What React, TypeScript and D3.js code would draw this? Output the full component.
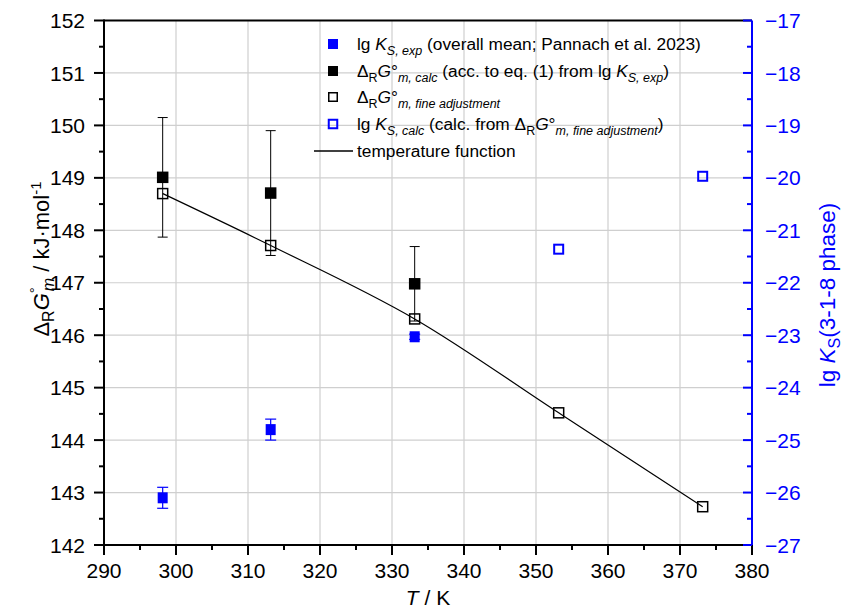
import React from "react";
import * as d3 from "d3";

// ---- data ----
const xTicks = [290, 300, 310, 320, 330, 340, 350, 360, 370, 380];
const yTicks = [142, 143, 144, 145, 146, 147, 148, 149, 150, 151, 152];
const y2Ticks = [-27, -26, -25, -24, -23, -22, -21, -20, -19, -18, -17];

const dgCalcT = [298.15, 313.15, 333.15];
const dgCalc = [149.01, 148.71, 146.98];
const dgCalcErr = [1.14, 1.19, 0.71];

const fineT = [298.15, 313.15, 333.15, 353.15, 373.15];
const dgFine = [148.7, 147.71, 146.31, 144.52, 142.73];

const lgKexpT = [298.15, 313.15, 333.15];
const lgKexp = [-26.1, -24.8, -23.03];
const lgKexpErr = [0.2, 0.2, 0.05];

const lgKcalcT = [353.15, 373.15];
const lgKcalc = [-21.36, -19.97];

// ---- layout ----
const W = 844, H = 609;
const L = 104, R = 752, T = 20.5, B = 545;
const FONT = "'Liberation Sans', Arial, Helvetica, sans-serif";
const BLUE = "#0000ff";

export default function App() {
  const x = d3.scaleLinear().domain([290, 380]).range([L, R]);
  const y = d3.scaleLinear().domain([142, 152]).range([B, T]);
  const y2 = d3.scaleLinear().domain([-27, -17]).range([B, T]);

  const xMinor = d3.range(295, 380, 10);
  const yMinor = d3.range(142.5, 152, 1);
  const y2Minor = d3.range(-26.5, -17, 1);

  const line = d3
    .line<number>()
    .x((_, i) => x(fineT[i]))
    .y((d) => y(d))
    .curve(d3.curveMonotoneX);

  const sq = 11.5;
  const sqB = 10;

  const sub = (t: string, italic = true, size = 12.5) => (
    <tspan fontSize={size} fontStyle={italic ? "italic" : "normal"} dy={5}>
      {t}
    </tspan>
  );

  const legendX = 357;
  const legendMX = 333;
  const rows = [44, 71, 97, 124, 151];

  return (
    <svg
      width={W}
      height={H}
      style={{ position: "absolute", left: 0, top: 0, background: "#fff" }}
      fontFamily={FONT}
    >
      <rect width={W} height={H} fill="#fff" />
      {/* grid */}
      {xTicks.slice(1, -1).map((t) => (
        <line key={"gx" + t} x1={x(t)} x2={x(t)} y1={T} y2={B} stroke="#cfcfcf" strokeWidth={1.2} />
      ))}
      {yTicks.slice(1, -1).map((t) => (
        <line key={"gy" + t} x1={L} x2={R} y1={y(t)} y2={y(t)} stroke="#cfcfcf" strokeWidth={1.2} />
      ))}

      {/* temperature function */}
      <path d={line(dgFine) || ""} fill="none" stroke="#000" strokeWidth={1.2} />

      {/* black error bars */}
      {dgCalc.map((v, i) => {
        const cx = x(dgCalcT[i]);
        const y1 = y(v + dgCalcErr[i]);
        const y0 = y(v - dgCalcErr[i]);
        return (
          <g key={"eb" + i} stroke="#000" strokeWidth={1}>
            <line x1={cx} x2={cx} y1={y1} y2={y0} />
            <line x1={cx - 5} x2={cx + 5} y1={y1} y2={y1} />
            <line x1={cx - 5} x2={cx + 5} y1={y0} y2={y0} />
          </g>
        );
      })}

      {/* open black squares */}
      {dgFine.map((v, i) => (
        <rect
          key={"of" + i}
          x={x(fineT[i]) - sq / 2 + 0.75}
          y={y(v) - sq / 2 + 0.75}
          width={sq - 1.5}
          height={sq - 1.5}
          fill="none"
          stroke="#000"
          strokeWidth={1.5}
        />
      ))}

      {/* filled black squares */}
      {dgCalc.map((v, i) => (
        <rect key={"fc" + i} x={x(dgCalcT[i]) - sq / 2} y={y(v) - sq / 2} width={sq} height={sq} fill="#000" />
      ))}

      {/* blue error bars */}
      {lgKexp.map((v, i) => {
        const cx = x(lgKexpT[i]);
        const y1 = y2(v + lgKexpErr[i]);
        const y0 = y2(v - lgKexpErr[i]);
        return (
          <g key={"beb" + i} stroke={BLUE} strokeWidth={1.2}>
            <line x1={cx} x2={cx} y1={y1} y2={y0} />
            <line x1={cx - 5.5} x2={cx + 5.5} y1={y1} y2={y1} />
            <line x1={cx - 5.5} x2={cx + 5.5} y1={y0} y2={y0} />
          </g>
        );
      })}
      {lgKexp.map((v, i) => (
        <rect key={"bf" + i} x={x(lgKexpT[i]) - sqB / 2} y={y2(v) - sqB / 2 - 0.5} width={sqB} height={sqB + 1} fill={BLUE} />
      ))}
      {lgKcalc.map((v, i) => (
        <rect
          key={"bo" + i}
          x={x(lgKcalcT[i]) - 4.5}
          y={y2(v) - 4.5}
          width={9}
          height={9}
          fill="none"
          stroke={BLUE}
          strokeWidth={2}
        />
      ))}

      {/* axes */}
      <line x1={L} x2={R} y1={T} y2={T} stroke="#000" strokeWidth={2} />
      <line x1={L} x2={R} y1={B} y2={B} stroke="#000" strokeWidth={2} />
      <line x1={L} x2={L} y1={T - 1} y2={B + 1} stroke="#000" strokeWidth={2} />
      <line x1={R} x2={R} y1={T} y2={B + 1} stroke={BLUE} strokeWidth={2} />

      {/* x ticks */}
      {xTicks.map((t) => (
        <g key={"xt" + t}>
          <line x1={x(t)} x2={x(t)} y1={B} y2={B + 10} stroke="#000" strokeWidth={2} />
          <text x={x(t)} y={578} textAnchor="middle" fontSize={21} fill="#000">
            {t}
          </text>
        </g>
      ))}
      {xMinor.map((t) => (
        <line key={"xm" + t} x1={x(t)} x2={x(t)} y1={B} y2={B + 5} stroke="#000" strokeWidth={2} />
      ))}

      {/* left y ticks */}
      {yTicks.map((t) => (
        <g key={"yt" + t}>
          <line x1={L - 10} x2={L} y1={y(t)} y2={y(t)} stroke="#000" strokeWidth={2} />
          <text x={85} y={y(t)} dy="0.36em" textAnchor="end" fontSize={21} fill="#000">
            {t}
          </text>
        </g>
      ))}
      {yMinor.map((t) => (
        <line key={"ym" + t} x1={L - 5} x2={L} y1={y(t)} y2={y(t)} stroke="#000" strokeWidth={2} />
      ))}

      {/* right y ticks */}
      {y2Ticks.map((t) => (
        <g key={"y2t" + t}>
          <line x1={R - 9} x2={R} y1={y2(t)} y2={y2(t)} stroke={BLUE} strokeWidth={2} />
          <text x={765} y={y2(t)} dy="0.36em" textAnchor="start" fontSize={21} fill={BLUE}>
            {"\u2212" + Math.abs(t)}
          </text>
        </g>
      ))}
      {y2Minor.map((t) => (
        <line key={"y2m" + t} x1={R - 5} x2={R} y1={y2(t)} y2={y2(t)} stroke={BLUE} strokeWidth={2} />
      ))}

      {/* axis titles */}
      <text x={(L + R) / 2} y={605} textAnchor="middle" fontSize={21} fill="#000">
        <tspan fontStyle="italic">T</tspan> / K
      </text>
      <text transform={`translate(49, 259) rotate(-90)`} textAnchor="middle" fontSize={22} fill="#000">
        Δ<tspan fontSize={16} dy={5}>R</tspan>
        <tspan dy={-5} fontStyle="italic">G</tspan>
        <tspan fontSize={15} dy={-9}>°</tspan>
        <tspan fontSize={16} fontStyle="italic" dx={-4} dy={14}>m</tspan>
        <tspan dy={-5}> / kJ·mol</tspan>
        <tspan fontSize={15} dy={-8}>-1</tspan>
      </text>
      <text transform={`translate(835, 295) rotate(-90)`} textAnchor="middle" fontSize={22.5} fill={BLUE}>
        lg <tspan fontStyle="italic">K</tspan>
        <tspan fontSize={16} dy={5}>S</tspan>
        <tspan dy={-5}>(3-1-8 phase)</tspan>
      </text>

      {/* legend */}
      <g fontSize={17.3} fill="#000">
        <rect x={legendMX - 5} y={rows[0] - 5} width={10} height={10} fill={BLUE} />
        <text x={legendX} y={rows[0] + 6}>
          lg <tspan fontStyle="italic">K</tspan>
          {sub("S, exp")}
          <tspan dy={-5}> (overall mean; Pannach et al. 2023)</tspan>
        </text>

        <rect x={legendMX - 5} y={rows[1] - 5} width={10} height={10} fill="#000" />
        <text x={legendX} y={rows[1] + 6}>
          Δ{sub("R", false)}
          <tspan dy={-5} fontStyle="italic">G</tspan>
          <tspan>°</tspan>
          {sub("m, calc")}
          <tspan dy={-5}> (acc. to eq. (1) from lg </tspan>
          <tspan fontStyle="italic">K</tspan>
          {sub("S, exp")}
          <tspan dy={-5}>)</tspan>
        </text>

        <rect x={legendMX - 4.25} y={rows[2] - 4.25} width={8.5} height={8.5} fill="none" stroke="#000" strokeWidth={1.5} />
        <text x={legendX} y={rows[2] + 6}>
          Δ{sub("R", false)}
          <tspan dy={-5} fontStyle="italic">G</tspan>
          <tspan>°</tspan>
          {sub("m, fine adjustment")}
        </text>

        <rect x={legendMX - 4.25} y={rows[3] - 4.25} width={8.5} height={8.5} fill="none" stroke={BLUE} strokeWidth={2} />
        <text x={legendX} y={rows[3] + 6}>
          lg <tspan fontStyle="italic">K</tspan>
          {sub("S, calc")}
          <tspan dy={-5}> (calc. from Δ</tspan>
          {sub("R", false)}
          <tspan dy={-5} fontStyle="italic">G</tspan>
          <tspan>°</tspan>
          {sub("m, fine adjustment")}
          <tspan dy={-5}>)</tspan>
        </text>

        <line x1={314} x2={353} y1={rows[4]} y2={rows[4]} stroke="#000" strokeWidth={1.5} />
        <text x={legendX} y={rows[4] + 6}>
          temperature function
        </text>
      </g>
    </svg>
  );
}
